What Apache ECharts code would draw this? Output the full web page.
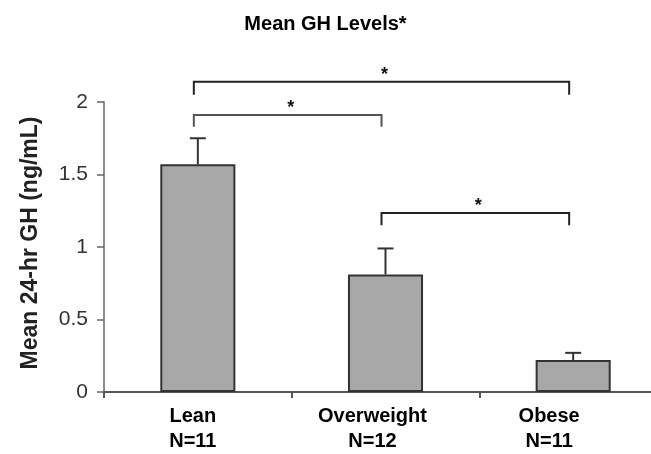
<!DOCTYPE html>
<html>
<head>
<meta charset="utf-8">
<script src="https://cdn.jsdelivr.net/npm/echarts@6/dist/echarts.min.js"></script>
<style>
  html, body { margin: 0; padding: 0; background: #fff; }
  #chart { width: 651px; height: 454px; }
</style>
</head>
<body>
<div id="chart"></div>
<script>
// Group labels (name + sample size) and their horizontal label nudges
const groups = ['Lean\nN=11', 'Overweight\nN=12', 'Obese\nN=11'];
const labelShift = [5, 13, 24];

// Mean 24-hr GH per group and the upper SEM whisker
const means = [1.57, 0.81, 0.22];
const sems = [0.18, 0.18, 0.05];

// Significance brackets: [from group, to group, bar level, leg bottom]
const bracketFrom = [0, 0, 1];
const bracketTo = [2, 1, 2];
const bracketLevel = [2.14, 1.91, 1.234];
const bracketLeg = [2.05, 1.83, 1.15];
const bracketMark = ['*', '*', '*'];

const yTicks = { min: 0, max: 2, interval: 0.5 };

const FONT = '"Liberation Sans", Arial, sans-serif';

const chart = echarts.init(document.getElementById('chart'));

const errorData = means.map((m, i) => [i, m, m + sems[i]]);
const bracketData = bracketFrom.map((f, i) => [f, bracketTo[i], bracketLevel[i], bracketLeg[i], bracketMark[i]]);

chart.setOption({
  animation: false,
  backgroundColor: '#fff',
  title: {
    text: 'Mean GH Levels*',
    left: 'center',
    top: 9,
    textStyle: { fontFamily: FONT, fontSize: 20, fontWeight: 'bold', color: '#000' }
  },
  // the plot runs past the right edge of the canvas
  grid: { left: 104, right: -16, top: 102, bottom: 62, outerBoundsMode: 'none', containLabel: false },
  xAxis: {
    type: 'category',
    data: groups.map((g, i) => ({
      value: g,
      textStyle: { padding: [0, labelShift[i] * 2, 0, 0] }
    })),
    axisLine: { lineStyle: { color: '#555', width: 2 } },
    axisTick: { show: true, length: 6, lineStyle: { color: '#555', width: 2 } },
    axisLabel: {
      fontFamily: FONT, fontSize: 20, fontWeight: 'bold', color: '#000',
      lineHeight: 25, margin: 12
    }
  },
  yAxis: {
    type: 'value',
    min: yTicks.min, max: yTicks.max, interval: yTicks.interval,
    name: 'Mean 24-hr GH (ng/mL)',
    nameLocation: 'middle',
    nameRotate: 90,
    nameGap: 62,
    nameTextStyle: {
      fontFamily: FONT, fontSize: 23, fontWeight: 'bold', color: '#222',
      padding: [0, 0, 0, 8]
    },
    axisLine: { show: true, lineStyle: { color: '#666', width: 1.5 } },
    axisTick: { show: true, length: 7, lineStyle: { color: '#666', width: 1.5 } },
    splitLine: { show: false },
    axisLabel: { fontFamily: FONT, fontSize: 21, color: '#333', margin: 16 }
  },
  series: [
    {
      type: 'bar',
      data: means,
      barWidth: '40%',
      itemStyle: { color: '#a8a8a8', borderColor: '#333', borderWidth: 2 },
      z: 2
    },
    {
      type: 'custom',
      data: errorData,
      clip: false,
      z: 3,
      renderItem: (params, api) => {
        const base = api.coord([api.value(0), api.value(1)]);
        const top = api.coord([api.value(0), api.value(2)]);
        const half = 8;
        const style = { stroke: '#333', lineWidth: 2 };
        return {
          type: 'group',
          children: [
            { type: 'line', shape: { x1: base[0], y1: base[1], x2: top[0], y2: top[1] }, style },
            { type: 'line', shape: { x1: top[0] - half, y1: top[1], x2: top[0] + half, y2: top[1] }, style }
          ]
        };
      }
    },
    {
      type: 'custom',
      data: bracketData,
      clip: false,
      z: 3,
      renderItem: (params, api) => {
        const shift = -4;
        const a = api.coord([api.value(0), api.value(2)]);
        const b = api.coord([api.value(1), api.value(2)]);
        const legA = api.coord([api.value(0), api.value(3)]);
        const x1 = a[0] + shift, x2 = b[0] + shift;
        const y = a[1], yLeg = legA[1];
        const style = { stroke: params.dataIndex === 1 ? '#555' : '#222', lineWidth: 2, fill: null };
        return {
          type: 'group',
          children: [
            { type: 'polyline', shape: { points: [[x1, yLeg], [x1, y], [x2, y], [x2, yLeg]] }, style },
            {
              type: 'text',
              style: {
                text: api.value(4),
                x: (x1 + x2) / 2 + 3,
                y: y + 2,
                align: 'center',
                verticalAlign: 'bottom',
                font: 'bold 18px ' + FONT,
                fill: '#111'
              }
            }
          ]
        };
      }
    }
  ]
});
</script>
</body>
</html>
